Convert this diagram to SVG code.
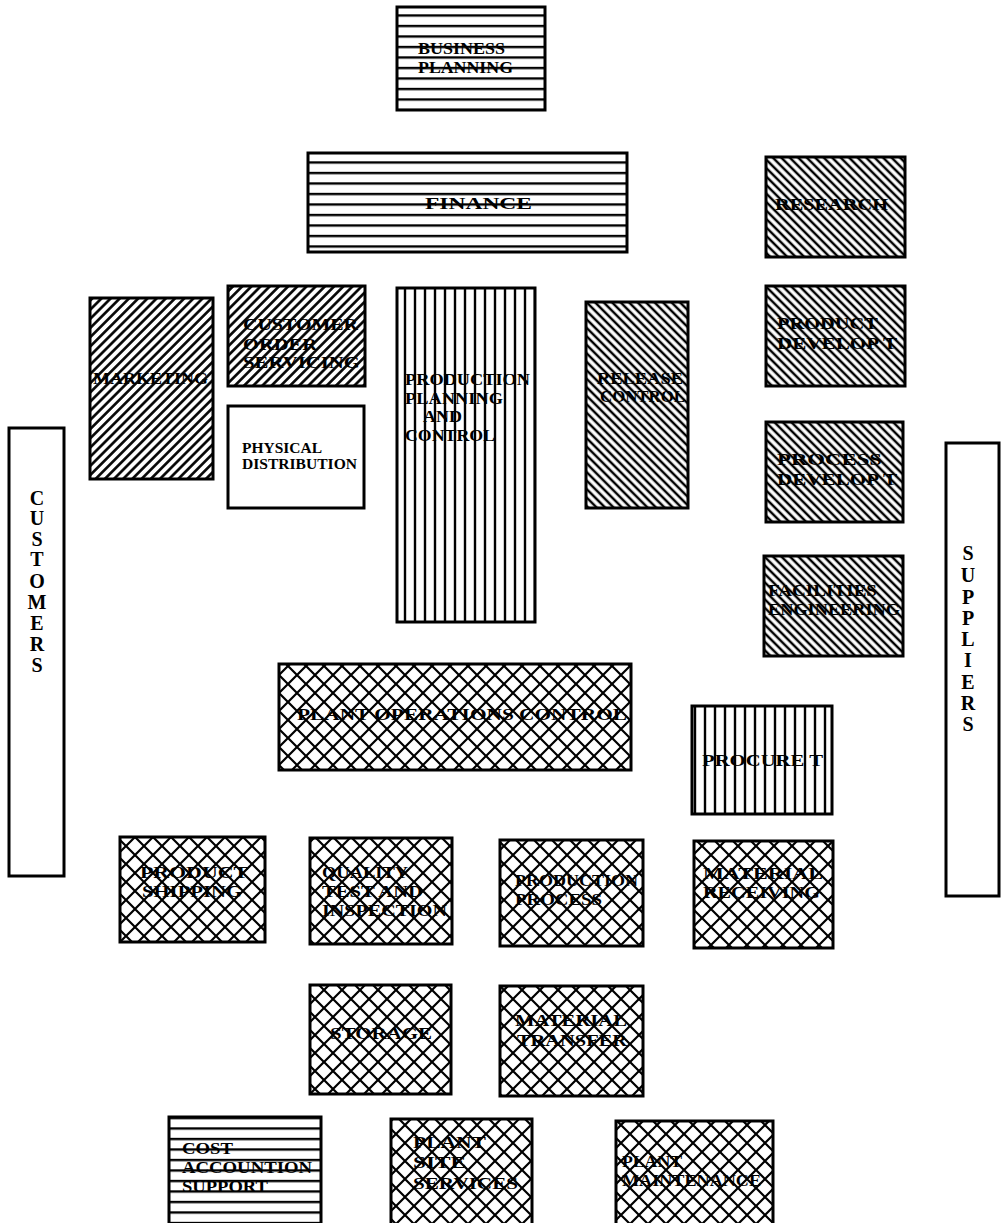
<svg xmlns="http://www.w3.org/2000/svg" width="1001" height="1223" viewBox="0 0 1001 1223">
<defs>
<pattern id="hl" patternUnits="userSpaceOnUse" width="20" height="10.5"><rect width="20" height="10.5" fill="#fff"/><line x1="0" y1="5" x2="20" y2="5" stroke="#000" stroke-width="2.4"/></pattern>
<pattern id="vl" patternUnits="userSpaceOnUse" width="10" height="20"><rect width="10" height="20" fill="#fff"/><line x1="5" y1="0" x2="5" y2="20" stroke="#000" stroke-width="2.4"/></pattern>
<pattern id="fw" patternUnits="userSpaceOnUse" width="20" height="6.5" patternTransform="rotate(-45)"><rect width="20" height="6.5" fill="#fff"/><line x1="0" y1="3.25" x2="20" y2="3.25" stroke="#000" stroke-width="2.6"/></pattern>
<pattern id="bk" patternUnits="userSpaceOnUse" width="20" height="6" patternTransform="rotate(45)"><rect width="20" height="6" fill="#fff"/><line x1="0" y1="3" x2="20" y2="3" stroke="#000" stroke-width="2.5"/></pattern>
<pattern id="xh" patternUnits="userSpaceOnUse" width="18" height="18"><rect width="18" height="18" fill="#fff"/><path d="M0 0L18 18M0 18L18 0" stroke="#000" stroke-width="2.2"/></pattern>
</defs>
<style>
rect.b{stroke:#000;stroke-width:3}
text{font-family:"Liberation Serif","Times New Roman",serif;font-weight:bold;font-size:17px;fill:#000}
text.s{font-size:15px}
text.v{font-size:20px;text-anchor:middle}
</style>
<rect width="1001" height="1223" fill="#fff"/>
<g id="connectors"/>
<g id="business-planning"><rect class="b" x="397" y="7" width="148" height="103" fill="url(#hl)"/><text x="418" y="54" textLength="87" lengthAdjust="spacingAndGlyphs">BUSINESS</text><text x="418" y="73" textLength="95" lengthAdjust="spacingAndGlyphs">PLANNING</text></g>
<g id="finance"><rect class="b" x="308" y="153" width="319" height="99" fill="url(#hl)"/><text x="425" y="209" textLength="107" lengthAdjust="spacingAndGlyphs">FINANCE</text></g>
<g id="research"><rect class="b" x="766" y="157" width="139" height="100" fill="url(#bk)"/><text x="775" y="210" textLength="113" lengthAdjust="spacingAndGlyphs">RESEARCH</text></g>
<g id="marketing"><rect class="b" x="90" y="298" width="123" height="181" fill="url(#fw)"/><text x="93" y="384" textLength="115" lengthAdjust="spacingAndGlyphs">MARKETING</text></g>
<g id="customer-order-servicing"><rect class="b" x="228" y="286" width="137" height="100" fill="url(#fw)"/><text x="243" y="330" textLength="115" lengthAdjust="spacingAndGlyphs">CUSTOMER</text><text x="243" y="350" textLength="74" lengthAdjust="spacingAndGlyphs">ORDER</text><text x="243" y="368" textLength="117" lengthAdjust="spacingAndGlyphs">SERVICING</text></g>
<g id="physical-distribution"><rect class="b" x="228" y="406" width="136" height="102" fill="#fff"/><text class="s" x="242" y="453" textLength="80" lengthAdjust="spacingAndGlyphs">PHYSICAL</text><text class="s" x="242" y="469" textLength="115" lengthAdjust="spacingAndGlyphs">DISTRIBUTION</text></g>
<g id="production-planning-control"><rect class="b" x="397" y="288" width="138" height="334" fill="url(#vl)"/><text x="405" y="385" textLength="125" lengthAdjust="spacingAndGlyphs">PRODUCTION</text><text x="405" y="404" textLength="98" lengthAdjust="spacingAndGlyphs">PLANNING</text><text x="423" y="422" textLength="39" lengthAdjust="spacingAndGlyphs">AND</text><text x="405" y="441" textLength="90" lengthAdjust="spacingAndGlyphs">CONTROL</text></g>
<g id="release-control"><rect class="b" x="586" y="302" width="102" height="206" fill="url(#bk)"/><text x="597" y="384" textLength="86" lengthAdjust="spacingAndGlyphs">RELEASE</text><text x="600" y="402" textLength="85" lengthAdjust="spacingAndGlyphs">CONTROL</text></g>
<g id="product-develop"><rect class="b" x="766" y="286" width="139" height="100" fill="url(#bk)"/><text x="777" y="329" textLength="101" lengthAdjust="spacingAndGlyphs">PRODUCT</text><text x="777" y="349" textLength="120" lengthAdjust="spacingAndGlyphs">DEVELOP T</text></g>
<g id="process-develop"><rect class="b" x="766" y="422" width="137" height="100" fill="url(#bk)"/><text x="777" y="465" textLength="105" lengthAdjust="spacingAndGlyphs">PROCESS</text><text x="777" y="485" textLength="120" lengthAdjust="spacingAndGlyphs">DEVELOP T</text></g>
<g id="facilities-engineering"><rect class="b" x="764" y="556" width="139" height="100" fill="url(#bk)"/><text x="768" y="596" textLength="109" lengthAdjust="spacingAndGlyphs">FACILITIES</text><text x="768" y="615" textLength="132" lengthAdjust="spacingAndGlyphs">ENGINEERING</text></g>
<g id="customers"><rect class="b" x="9" y="428" width="55" height="448" fill="#fff"/>
<text class="v" x="37" y="505">C</text><text class="v" x="37" y="525">U</text><text class="v" x="37" y="546">S</text><text class="v" x="37" y="566">T</text><text class="v" x="37" y="588">O</text><text class="v" x="37" y="609">M</text><text class="v" x="37" y="630">E</text><text class="v" x="37" y="651">R</text><text class="v" x="37" y="672">S</text></g>
<g id="suppliers"><rect class="b" x="946" y="443" width="53" height="453" fill="#fff"/>
<text class="v" x="968" y="560">S</text><text class="v" x="968" y="582">U</text><text class="v" x="968" y="604">P</text><text class="v" x="968" y="625">P</text><text class="v" x="968" y="646">L</text><text class="v" x="968" y="667">I</text><text class="v" x="968" y="689">E</text><text class="v" x="968" y="710">R</text><text class="v" x="968" y="731">S</text></g>
<g id="plant-operations-control"><rect class="b" x="279" y="664" width="352" height="106" fill="url(#xh)"/><text x="297" y="720" textLength="330" lengthAdjust="spacingAndGlyphs">PLANT OPERATIONS CONTROL</text></g>
<g id="procurement"><rect class="b" x="692" y="706" width="140" height="108" fill="url(#vl)"/><text x="702" y="766" textLength="121" lengthAdjust="spacingAndGlyphs">PROCURE T</text></g>
<g id="product-shipping"><rect class="b" x="120" y="837" width="145" height="105" fill="url(#xh)"/><text x="140" y="878" textLength="108" lengthAdjust="spacingAndGlyphs">PRODUCT</text><text x="142" y="897" textLength="100" lengthAdjust="spacingAndGlyphs">SHIPPING</text></g>
<g id="quality-test-inspection"><rect class="b" x="310" y="838" width="142" height="106" fill="url(#xh)"/><text x="322" y="878" textLength="86" lengthAdjust="spacingAndGlyphs">QUALITY</text><text x="322" y="897" textLength="101" lengthAdjust="spacingAndGlyphs">TEST AND</text><text x="322" y="916" textLength="125" lengthAdjust="spacingAndGlyphs">INSPECTION</text></g>
<g id="production-process"><rect class="b" x="500" y="840" width="143" height="106" fill="url(#xh)"/><text x="515" y="886" textLength="123" lengthAdjust="spacingAndGlyphs">PRODUCTION</text><text x="515" y="905" textLength="87" lengthAdjust="spacingAndGlyphs">PROCESS</text></g>
<g id="material-receiving"><rect class="b" x="694" y="841" width="139" height="107" fill="url(#xh)"/><text x="703" y="879" textLength="120" lengthAdjust="spacingAndGlyphs">MATERIAL</text><text x="703" y="898" textLength="117" lengthAdjust="spacingAndGlyphs">RECEIVING</text></g>
<g id="storage"><rect class="b" x="310" y="985" width="141" height="109" fill="url(#xh)"/><text x="330" y="1039" textLength="102" lengthAdjust="spacingAndGlyphs">STORAGE</text></g>
<g id="material-transfer"><rect class="b" x="500" y="986" width="143" height="110" fill="url(#xh)"/><text x="515" y="1026" textLength="112" lengthAdjust="spacingAndGlyphs">MATERIAL</text><text x="517" y="1046" textLength="110" lengthAdjust="spacingAndGlyphs">TRANSFER</text></g>
<g id="cost-accounting-support"><rect class="b" x="169" y="1117" width="152" height="110" fill="url(#hl)"/><text x="182" y="1154" textLength="51" lengthAdjust="spacingAndGlyphs">COST</text><text x="182" y="1173" textLength="130" lengthAdjust="spacingAndGlyphs">ACCOUNTION</text><text x="182" y="1192" textLength="86" lengthAdjust="spacingAndGlyphs">SUPPORT</text></g>
<g id="plant-site-services"><rect class="b" x="391" y="1119" width="141" height="110" fill="url(#xh)"/><text x="413" y="1148" textLength="73" lengthAdjust="spacingAndGlyphs">PLANT</text><text x="413" y="1168" textLength="53" lengthAdjust="spacingAndGlyphs">SITE</text><text x="413" y="1189" textLength="105" lengthAdjust="spacingAndGlyphs">SERVICES</text></g>
<g id="plant-maintenance"><rect class="b" x="616" y="1121" width="157" height="110" fill="url(#xh)"/><text x="622" y="1167" textLength="60" lengthAdjust="spacingAndGlyphs">PLANT</text><text x="622" y="1186" textLength="139" lengthAdjust="spacingAndGlyphs">MAINTENANCE</text></g>
</svg>
